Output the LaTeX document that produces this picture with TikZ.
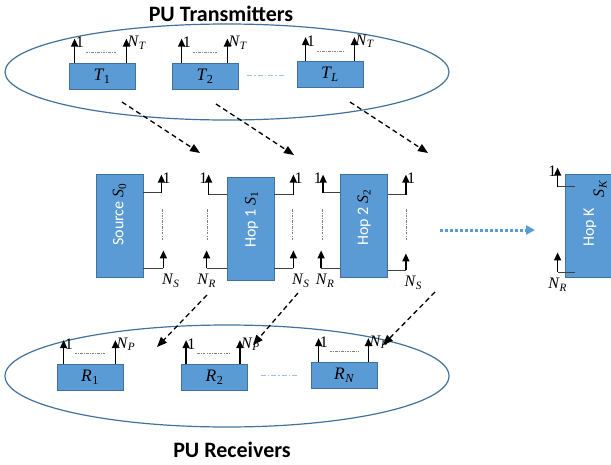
\documentclass[tikz,border=0pt]{standalone}
\usepackage{fontspec}
\setmainfont{Carlito}
\newfontfamily\lblfont{Liberation Serif}
\newcommand\mlab[2]{{\lblfont\itshape #1\kern0.5pt\textsubscript{#2}}}
\usetikzlibrary{arrows.meta,calc}
\definecolor{boxblue}{HTML}{5B9BD5}
\definecolor{boxedge}{HTML}{41719C}
\definecolor{lightblue}{HTML}{9DC3E6}
\begin{document}
\begin{tikzpicture}[x=1pt, y=-1pt,
  every node/.style={font=\lblfont\fontsize{16}{18}\selectfont},
  tbox/.style={draw=boxedge, fill=boxblue, line width=0.8pt, minimum width=66pt,
    minimum height=26pt, inner sep=0pt, font=\lblfont\fontsize{17.5}{19}\selectfont},
  hbox/.style={draw=boxedge, fill=boxblue, line width=0.8pt, minimum width=47pt,
    minimum height=103pt, inner sep=0pt},
  boxtext/.style={rotate=90, inner sep=0pt, font=\fontsize{16}{18}\selectfont},
  antarrow/.style={line width=1.4pt, -{Triangle[length=8pt, width=7pt]}},
  feedline/.style={line width=0.8pt, draw=black!75},
  dotline/.style={gray, line width=0.6pt, dash pattern=on 2.5pt off 1.2pt on 0.8pt off 1.2pt},
  gapline/.style={lightblue, line width=1pt, dash pattern=on 5pt off 2pt on 1.5pt off 2pt},
  linkarrow/.style={line width=1.3pt, dash pattern=on 5pt off 3.5pt,
    -{Triangle[length=10pt, width=8pt]}},
  hopdots/.style={boxblue, line width=3pt, dash pattern=on 2.5pt off 2.5pt,
    -{Triangle[length=9pt, width=9pt]}},
  ringline/.style={draw=boxedge, line width=1.2pt},
  titletext/.style={font=\fontsize{22}{26}\selectfont\bfseries},
  oner/.style={pos=1, anchor=west, inner sep=0.5pt, yshift=-4pt},
  onel/.style={pos=1, anchor=east, inner sep=0.5pt, yshift=-4pt},
  nsr/.style={pos=0, anchor=north west, inner sep=1pt, yshift=-4pt, xshift=-3pt},
  nrb/.style={pos=0, anchor=north, inner sep=1pt, yshift=-4pt},
  nrs/.style={nrb, xshift=4pt}]
  \useasboundingbox (0,0) rectangle (611,464);
  \clip (0,0) rectangle (611,464);

  % PU groups
  \draw[ringline] (227,72) ellipse [x radius=222, y radius=48];
  \draw[ringline] (227,376) ellipse [x radius=222, y radius=51];
  \node[titletext] (ttitle) at (221,14) {PU Transmitters};
  \node[titletext] (rtitle) at (232,450) {PU Receivers};

  % transmitters
  \node[tbox] (T1) at (102,76) {\mlab{T}{\upshape 1}};
  \node[tbox] (T2) at (205,76) {\mlab{T}{\upshape 2}};
  \node[tbox] (TL) at (330,74.5) {\mlab{T}{L}};
  \foreach \b/\l/\r in {T1/6/9, T2/10/11, TL/9/9} {
    \draw[antarrow] ($(\b.north west)+(\l,0)$) -- ++(0,-24) node[oner] {1};
    \draw[antarrow] ($(\b.north east)+(-\r,0)$) -- ++(0,-24) node[oner] {\mlab{N}{T}};
    \draw[dotline] ($(\b.north west)+(\l+11,-10)$) -- ($(\b.north east)+(-\r-10,-10)$);
  }
  \draw[gapline] (T2.east) ++(9,-1) -- ($(TL.west)+(-12,0.5)$);

  % receivers
  \node[tbox] (R1) at (90,377.5) {\mlab{R}{\upshape 1}};
  \node[tbox] (R2) at (214.5,377.5) {\mlab{R}{\upshape 2}};
  \node[tbox] (RN) at (344,375.5) {\mlab{R}{N}};
  \foreach \b/\l/\r in {R1/7/8, R2/5/8, RN/8/9} {
    \draw[antarrow] ($(\b.north west)+(\l,0)$) -- ++(0,-24) node[oner] {1};
    \draw[antarrow] ($(\b.north east)+(-\r,0)$) -- ++(0,-24) node[oner] {\mlab{N}{P}};
    \draw[dotline] ($(\b.north west)+(\l+11,-11)$) -- ($(\b.north east)+(-\r-10,-11)$);
  }
  \draw[gapline] (R2.east) ++(13,-2.5) -- ($(RN.west)+(-14,-0.5)$);

  % source and hops
  \node[hbox] (S0) at (119.5,225.5) {};
  \node[hbox] (S1) at (250.5,228.5) {};
  \node[hbox] (S2) at (364,225.5) {};
  \node[hbox] (SK) at (588.5,225.5) {};
  \node[boxtext] (s0text) at ($(S0)+(0,-11)$) {\textcolor{white}{Source} \mlab{S}{\upshape 0}};
  \node[boxtext] (s1text) at ($(S1)+(1,-9)$) {\textcolor{white}{Hop 1} \mlab{S}{\upshape 1}};
  \node[boxtext] (s2text) at ($(S2)+(0,-8)$) {\textcolor{white}{Hop 2} \mlab{S}{\upshape 2}};
  \node[boxtext, text=white] (sktext) at (590,227.5) {Hop K};
  \node[boxtext] (sklabel) at (600,189) {\mlab{S}{K}};

  % antenna feeds
  \foreach \a/\ox/\dy/\dx/\h/\t/\lbl in {
      S0.north east/0/19/18/18/oner/1, S0.south east/0/-9/20/18/nsr/\mlab{N}{S},
      S1.north west/0/18/-18/20/onel/1, S1.south west/0/-12/-20/18/nrb/\mlab{N}{R},
      S1.north east/0/18/19/20/oner/1, S1.south east/0/-12/19/18/nsr/\mlab{N}{S},
      S2.north west/0/19/-17/18/onel/1, S2.south west/0/-9/-19/18/nrs/\mlab{N}{R},
      S2.north east/0/21/18/20/oner/1, S2.south east/0/-7/18/17/nsr/\mlab{N}{S},
      SK.north west/10/13/-17/19/onel/1, SK.south west/10/-5/-17/20/nrb/\mlab{N}{R}} {
    \draw[feedline] ($(\a)+(\ox,\dy)$) -- ++(\dx,0) coordinate (f);
    \draw[antarrow] (f) -- ++(0,-\h) node[\t] {\lbl};
  }
  \foreach \x in {162,207,292,322,406}
    \draw[dotline] (\x,209) -- (\x,240);

  % more hops
  \coordinate (h1) at (440,230);
  \coordinate (h2) at (535,230);
  \draw[hopdots] (h1) -- (h2);

  % interference links
  \coordinate (a1) at (122,102); \coordinate (b1) at (200,153);
  \coordinate (a2) at (216,104); \coordinate (b2) at (294,155);
  \coordinate (a3) at (350,102); \coordinate (b3) at (428,153);
  \coordinate (c1) at (207,295); \coordinate (d1) at (157,347);
  \coordinate (c2) at (298,293); \coordinate (d2) at (253,345);
  \coordinate (c3) at (435,292); \coordinate (d3) at (383,345);
  \foreach \i in {1,2,3} {
    \draw[linkarrow] (a\i) -- (b\i);
    \draw[linkarrow] (c\i) -- (d\i);
  }
\end{tikzpicture}
\end{document}
